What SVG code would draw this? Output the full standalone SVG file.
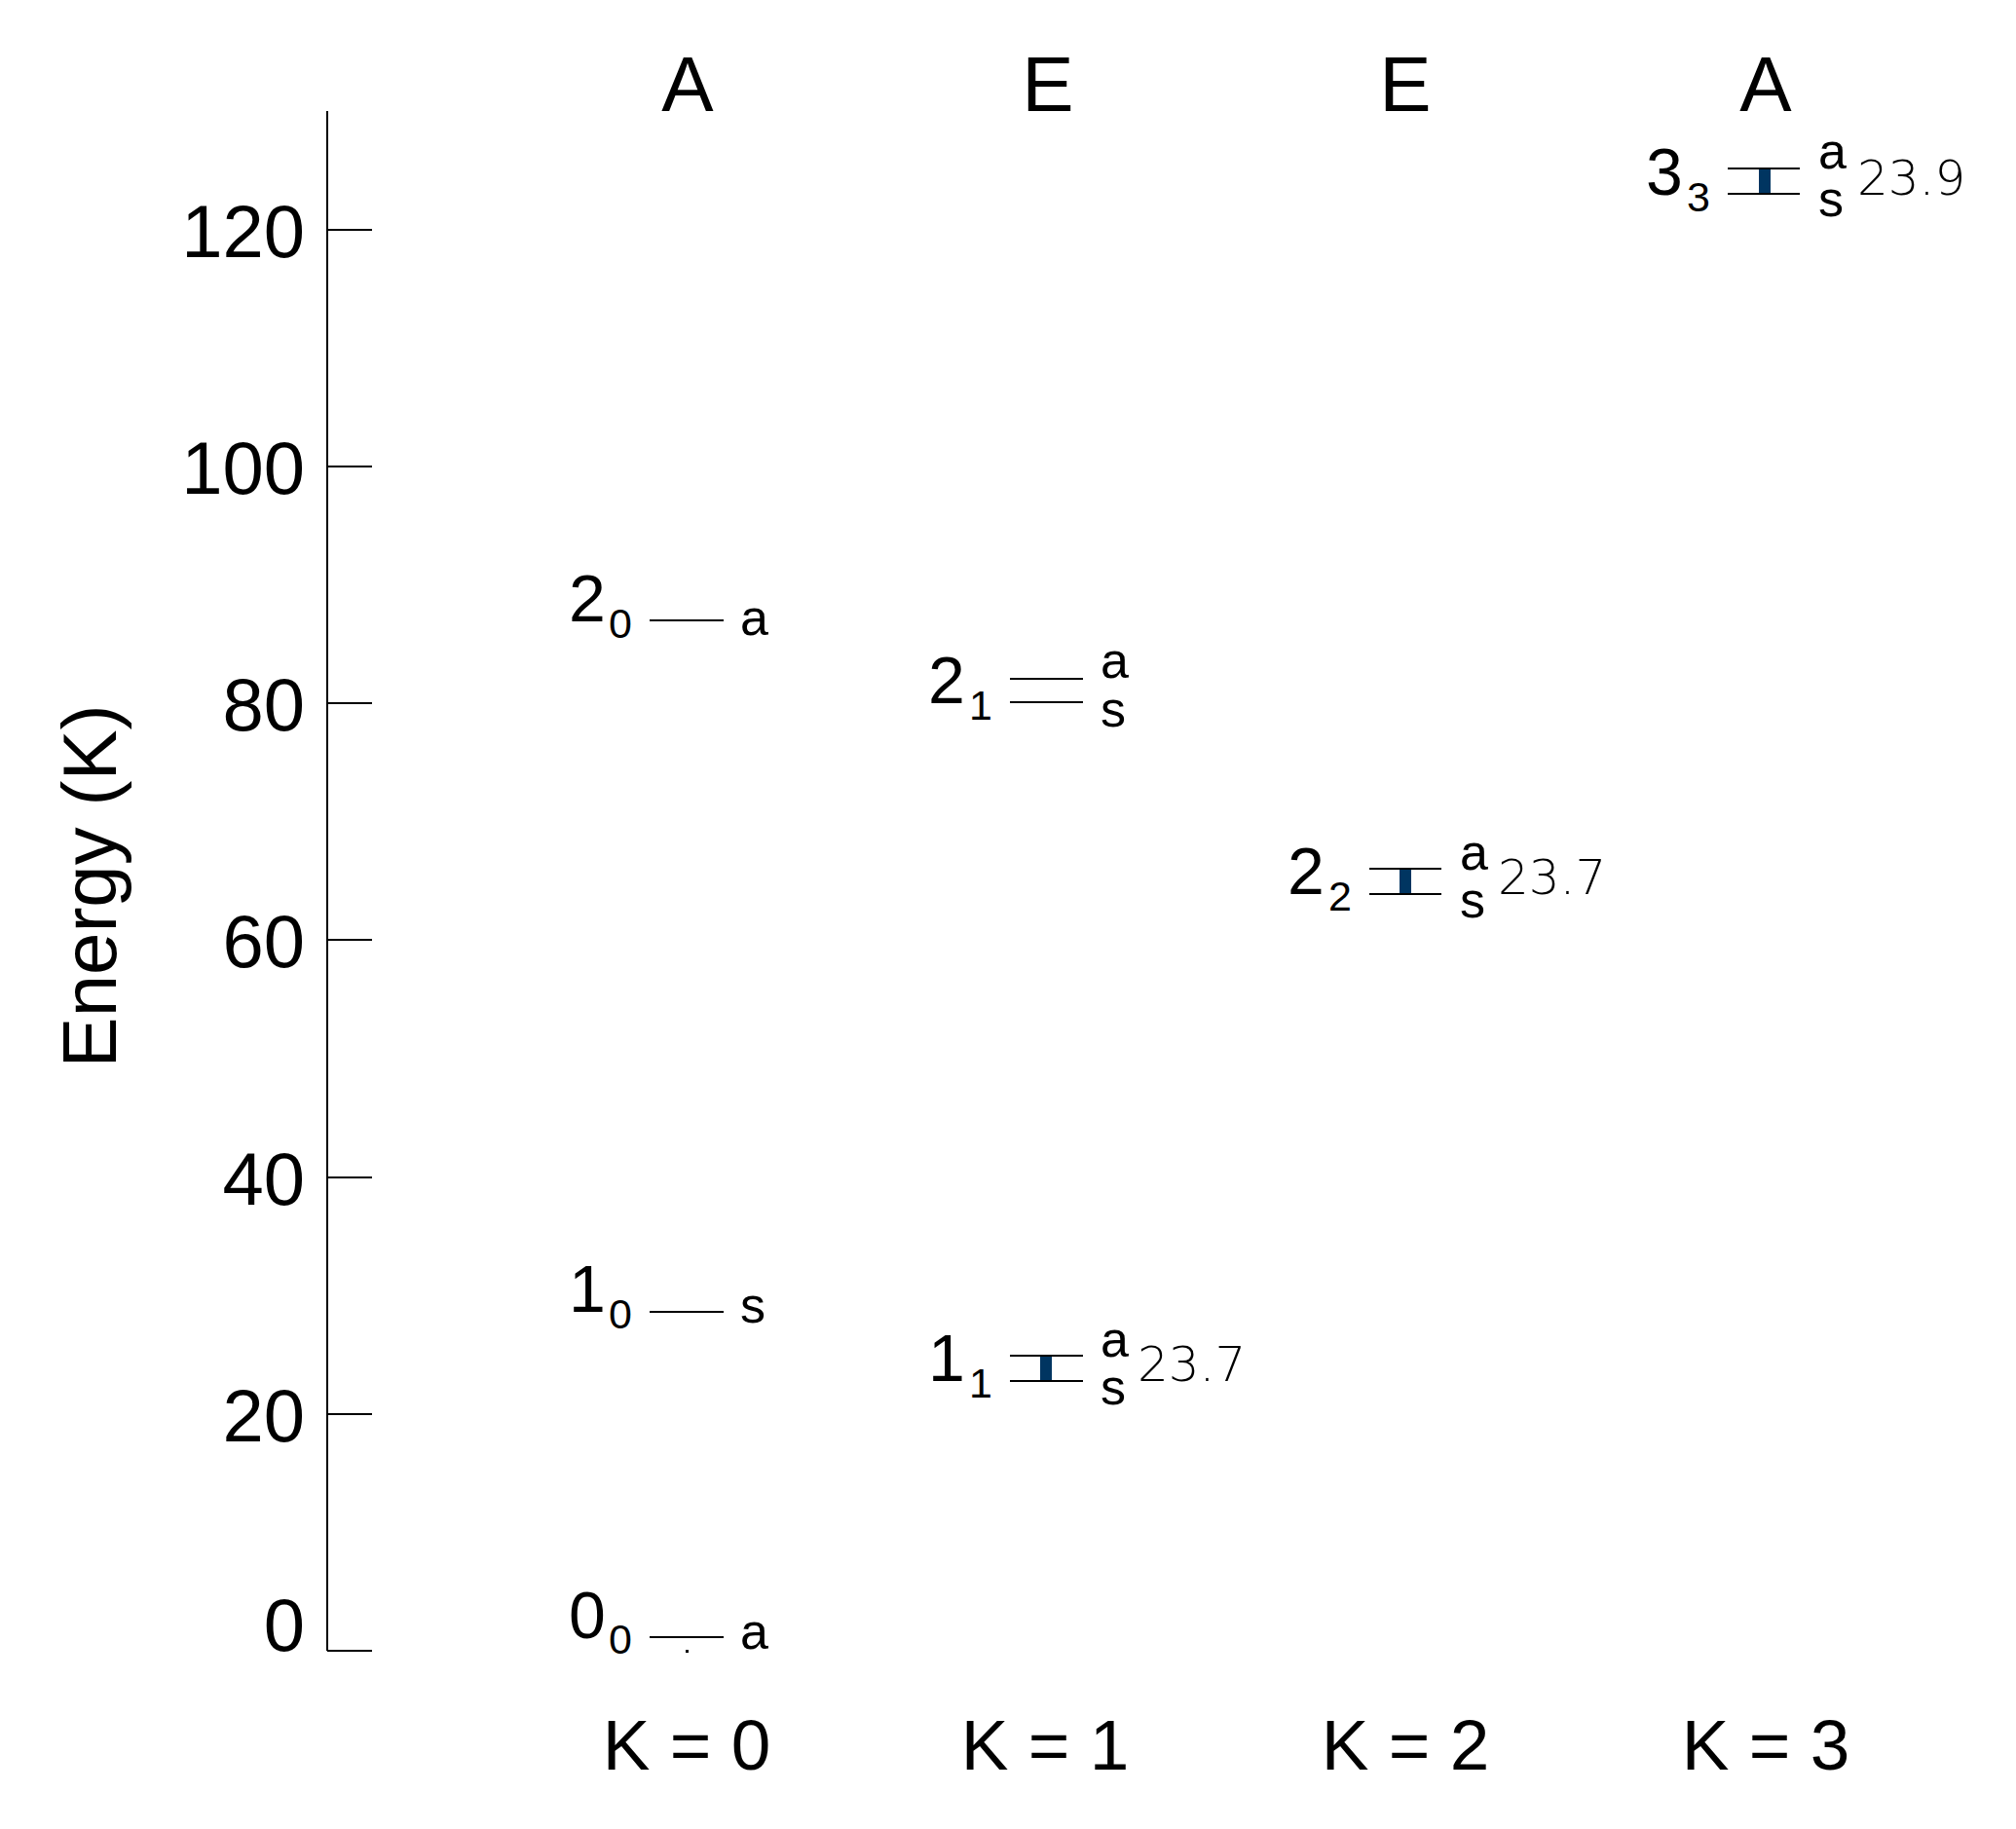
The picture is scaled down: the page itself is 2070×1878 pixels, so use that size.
<svg xmlns="http://www.w3.org/2000/svg" width="2070" height="1878" viewBox="0 0 2070 1878">
<style>
text { font-family: "Liberation Sans", Arial, sans-serif; fill: #000; }
.ax { stroke: #000; stroke-width: 2; fill: none; }
.tick { font-size: 76px; text-anchor: end; }
.hdr { font-size: 80px; text-anchor: middle; }
.kl { font-size: 73px; text-anchor: middle; }
.lv { stroke: #000; stroke-width: 2; }
.mn { font-size: 68px; }
.sb { font-size: 43px; }
.par { font-size: 52px; }
.sp { font-family: "DejaVu Sans", sans-serif; font-weight: 200; font-size: 50px; }
.bar { fill: #003561; }
</style>
<rect width="2070" height="1878" fill="#fff"/>
<g id="axis">
  <path class="ax" d="M336 114 V1695 M336 1695 H382 M336 1452 H382 M336 1209 H382 M336 965 H382 M336 722 H382 M336 479 H382 M336 236 H382"/>
  <text class="tick" x="313" y="1695">0</text>
  <text class="tick" x="313" y="1480">20</text>
  <text class="tick" x="313" y="1237">40</text>
  <text class="tick" x="313" y="993">60</text>
  <text class="tick" x="313" y="750">80</text>
  <text class="tick" x="313" y="507">100</text>
  <text class="tick" x="313" y="264">120</text>
  <text transform="translate(119 910) rotate(-90)" font-size="78" text-anchor="middle">Energy (K)</text>
</g>
<g id="headers">
  <text class="hdr" x="706" y="114">A</text>
  <text class="hdr" x="1076" y="114">E</text>
  <text class="hdr" x="1443" y="114">E</text>
  <text class="hdr" x="1813" y="114">A</text>
</g>
<g id="klabels">
  <text class="kl" x="705" y="1817">K = 0</text>
  <text class="kl" x="1073" y="1817">K = 1</text>
  <text class="kl" x="1443" y="1817">K = 2</text>
  <text class="kl" x="1813" y="1817">K = 3</text>
</g>
<g id="level-0-0">
  <line class="lv" x1="667" y1="1681" x2="743" y2="1681"/>
  <rect x="704" y="1694" width="3" height="3" fill="#000"/>
  <text class="mn" x="584" y="1682">0</text>
  <text class="sb" x="625" y="1698">0</text>
  <text class="par" x="760" y="1693">a</text>
</g>
<g id="level-1-0">
  <line class="lv" x1="667" y1="1347" x2="743" y2="1347"/>
  <text class="mn" x="584" y="1347">1</text>
  <text class="sb" x="625" y="1364">0</text>
  <text class="par" x="760" y="1358">s</text>
</g>
<g id="level-2-0">
  <line class="lv" x1="667" y1="637" x2="743" y2="637"/>
  <text class="mn" x="584" y="638">2</text>
  <text class="sb" x="625" y="655">0</text>
  <text class="par" x="760" y="652">a</text>
</g>
<g id="level-2-1">
  <line class="lv" x1="1037" y1="697" x2="1112" y2="697"/>
  <line class="lv" x1="1037" y1="721" x2="1112" y2="721"/>
  <text class="mn" x="953" y="722">2</text>
  <text class="sb" x="995" y="739">1</text>
  <text class="par" x="1130" y="696">a</text>
  <text class="par" x="1130" y="746">s</text>
</g>
<g id="level-1-1">
  <rect class="bar" x="1068" y="1392" width="12" height="26"/>
  <line class="lv" x1="1037" y1="1392" x2="1112" y2="1392"/>
  <line class="lv" x1="1037" y1="1418" x2="1112" y2="1418"/>
  <text class="mn" x="953" y="1418">1</text>
  <text class="sb" x="995" y="1435">1</text>
  <text class="par" x="1130" y="1393">a</text>
  <text class="par" x="1130" y="1442">s</text>
  <text class="sp" x="1168" y="1418">23.7</text>
</g>
<g id="level-2-2">
  <rect class="bar" x="1437" y="892" width="12" height="26"/>
  <line class="lv" x1="1406" y1="892" x2="1480" y2="892"/>
  <line class="lv" x1="1406" y1="918" x2="1480" y2="918"/>
  <text class="mn" x="1322" y="918">2</text>
  <text class="sb" x="1364" y="935">2</text>
  <text class="par" x="1499" y="893">a</text>
  <text class="par" x="1499" y="942">s</text>
  <text class="sp" x="1538" y="918">23.7</text>
</g>
<g id="level-3-3">
  <rect class="bar" x="1806" y="173" width="12" height="26"/>
  <line class="lv" x1="1774" y1="173" x2="1848" y2="173"/>
  <line class="lv" x1="1774" y1="199" x2="1848" y2="199"/>
  <text class="mn" x="1690" y="200">3</text>
  <text class="sb" x="1732" y="217">3</text>
  <text class="par" x="1867" y="173">a</text>
  <text class="par" x="1867" y="222">s</text>
  <text class="sp" x="1907" y="200">23.9</text>
</g>
</svg>
